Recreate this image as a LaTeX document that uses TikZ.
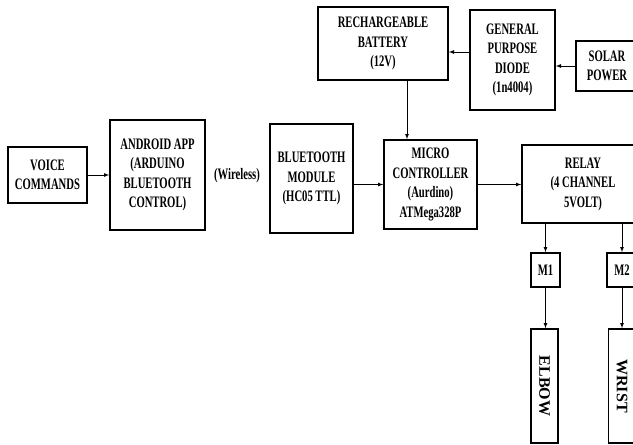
\documentclass[tikz,border=0pt]{standalone}
\usepackage{fontspec}
\setmainfont[FakeStretch=0.665]{Liberation Serif}
\newfontfamily\tallfont{Liberation Serif}
\tikzset{
  blk/.style={draw, line width=1.6pt, align=center, inner sep=0pt,
    font=\bfseries\fontsize{16}{19.5}\selectfont},
  lbl/.style={align=center, inner sep=0pt,
    font=\bfseries\fontsize{16}{19.5}\selectfont},
  vblk/.style={draw, line width=1.6pt, inner sep=0pt, rotate=-90,
    font=\tallfont\bfseries\fontsize{16}{20}\selectfont},
}
\begin{document}
\begin{tikzpicture}[>=latex, x=1pt, y=-1pt, line width=0.8pt]
  \clip (0,0) rectangle (633,445);
%%
  % Node: voice
  \node[blk, minimum width=79pt, minimum height=56pt] (voice) at (47.5,175) {VOICE\\COMMANDS};
  % Node: android
  \node[blk, minimum width=95pt, minimum height=110pt] (android) at (157.5,175) {ANDROID APP\\(ARDUINO\\BLUETOOTH\\CONTROL)};
  % Node: wireless
  \node[lbl] (wireless) at (237,176) {(Wireless)};
  % Node: bt
  \node[blk, minimum width=83pt, minimum height=109pt] (bt) at (311.5,178.5) {BLUETOOTH\\MODULE\\(HC05 TTL)};
  % Node: mcu
  \node[blk, minimum width=93pt, minimum height=89pt] (mcu) at (430.5,184.5) {MICRO\\CONTROLLER\\(Aurdino)\\ATMega328P};
  % Node: relay
  \node[blk, minimum width=122pt, minimum height=78pt] (relay) at (583,184) {RELAY\\(4 CHANNEL\\5VOLT)};
  % Node: battery
  \node[blk, minimum width=130pt, minimum height=73pt] (battery) at (383,43.5) {RECHARGEABLE\\BATTERY\\(12V)};
  % Node: diode
  \node[blk, minimum width=85pt, minimum height=100pt] (diode) at (512.5,60) {GENERAL\\PURPOSE\\DIODE\\(1n4004)};
  % Node: solar
  \node[blk, minimum width=62pt, minimum height=50pt] (solar) at (607,66) {SOLAR\\POWER};
  % Node: m1
  \node[blk, minimum width=29pt, minimum height=34pt] (m1) at (545.5,270) {M1};
  % Node: m2
  \node[blk, minimum width=30pt, minimum height=34pt] (m2) at (622,270) {M2};
  % Node: elbow
  \node[vblk, minimum width=114pt, minimum height=27pt] (elbow) at (544.5,386) {ELBOW};
  % Node: wrist
  \node[vblk, minimum width=114pt, minimum height=27pt] (wrist) at (622,386) {WRIST};
%%
  % Edge: voice -> android
  \draw [->] (voice.east) -- (android.west);
  % Edge: bt -> mcu
  \draw [->] (bt.east |- mcu.west) -- (mcu.west);
  % Edge: mcu -> relay
  \draw [->] (mcu.east) -- (mcu.east -| relay.west);
  % Edge: solar -> diode
  \draw [->] (solar.west) -- (solar.west -| diode.east);
  % Edge: diode -> battery
  \draw [->] ([yshift=8pt]diode.west) -- ([yshift=8pt]diode.west -| battery.east);
  % Edge: battery -> mcu
  \draw [->] ([xshift=24pt]battery.south) -- ([xshift=24pt]battery.south |- mcu.north);
  % Edge: relay -> m1
  \draw [->] (m1.north |- relay.south) -- (m1.north);
  % Edge: relay -> m2
  \draw [->] (m2.north |- relay.south) -- (m2.north);
  % Edge: m1 -> elbow
  \draw [->] (m1.south) -- (m1.south |- elbow.west);
  % Edge: m2 -> wrist
  \draw [->] (m2.south) -- (m2.south |- wrist.west);
%
\end{tikzpicture}
\end{document}
